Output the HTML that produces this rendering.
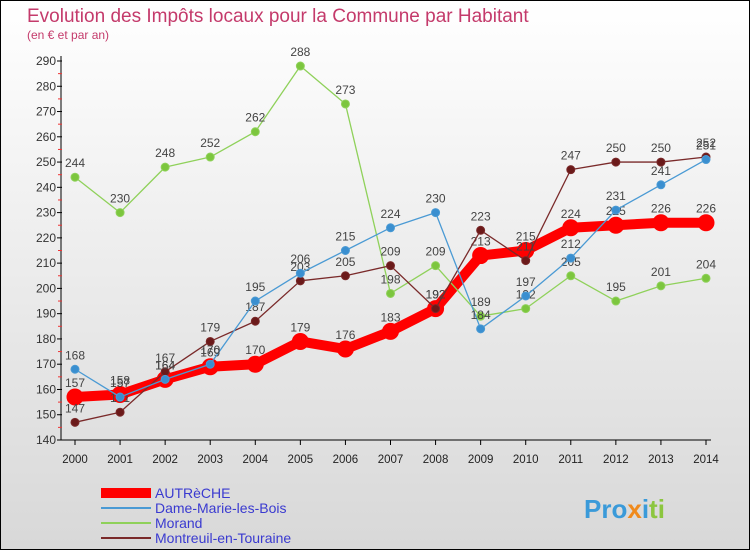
<!DOCTYPE html>
<html><head><meta charset="utf-8"><style>
body{margin:0;width:750px;height:550px;overflow:hidden;font-family:"Liberation Sans",sans-serif}
#wrap{position:relative;width:748px;height:548px;border:1px solid #000;background:linear-gradient(#fff,#d8d8d8)}
</style></head><body>
<div id="wrap">
<svg id="svg" width="748" height="548" style="position:absolute;left:0;top:0">
<text x="26" y="21" font-size="19" fill="#c43a6b">Evolution des Impôts locaux pour la Commune par Habitant</text>
<text x="26" y="38" font-size="12" fill="#c43a6b">(en € et par an)</text>
<g id="axes"></g><g id="series"></g><g id="legend"></g>
<text x="583" y="517" font-size="26" font-weight="bold" fill="#3a9ad9">Pro<tspan fill="#f08a1c">x</tspan><tspan fill="#3a9ad9">i</tspan><tspan fill="#8cc63f">ti</tspan></text>
</svg>
</div>
<script>
const years=[2000,2001,2002,2003,2004,2005,2006,2007,2008,2009,2010,2011,2012,2013,2014];
const autreche=[157,158,164,169,170,179,176,183,192,213,215,224,225,226,226];
const dameMarie=[168,157,164,170,195,206,215,224,230,184,197,212,231,241,251];
const morand=[244,230,248,252,262,288,273,198,209,189,192,205,195,201,204];
const montreuil=[147,151,167,179,187,203,205,209,192,223,211,247,250,250,252];
const yTicks=[140,150,160,170,180,190,200,210,220,230,240,250,260,270,280,290];
const NS="http://www.w3.org/2000/svg";
const x=i=>74+i*(705-74)/(years.length-1);
const y=v=>439-(v-140)*(439-60)/150;
function mk(t,a,p){const e=document.createElementNS(NS,t);for(const k in a)e.setAttribute(k,a[k]);p.appendChild(e);return e;}
const ax=document.getElementById('axes');
let l=mk('line',{x1:60,y1:55,x2:60,y2:439,stroke:'#000'},ax);


l=mk('line',{x1:60,y1:439,x2:710,y2:439,stroke:'#000'},ax);


yTicks.forEach(v=>{
 mk('line',{x1:56,y1:y(v),x2:61,y2:y(v),stroke:'#000'},ax);
 if(v<290)mk('line',{x1:57,y1:y(v+5),x2:61,y2:y(v+5),stroke:'#e33'},ax);
 const t=mk('text',{x:55,y:y(v)+4,'font-size':12,'text-anchor':'end',fill:'#333'},ax);t.textContent=v;
 
 
});
years.forEach((yr,i)=>{
 mk('line',{x1:x(i),y1:439,x2:x(i),y2:444,stroke:'#000'},ax);
 const t=mk('text',{x:x(i),y:462,'font-size':11.5,'text-anchor':'middle',fill:'#222'},ax);t.textContent=yr;
 
 
});
const sg=document.getElementById('series');
function draw(data,color,w,r,name,dot){
 const g=mk('g',{},sg);
 
 
 const p=mk('polyline',{points:data.map((v,i)=>x(i)+','+y(v)).join(' '),fill:'none',stroke:color,'stroke-width':w,'stroke-linejoin':'round'},g);
 
 
 data.forEach((v,i)=>{
  const c=mk('circle',{cx:x(i),cy:y(v),r:r,fill:dot,stroke:color,'stroke-width':1},g);
  
  
  const t=mk('text',{x:x(i),y:y(v)-10,'font-size':12,'text-anchor':'middle',fill:'#444'},g);t.textContent=v;
  
  
 });
}
draw(autreche,'#f00',10,8,'autreche','#f00');
draw(morand,'#8fd15a',1.3,4,'morand','#7cc63e');
draw(montreuil,'#7a2a2a',1.3,4,'montreuil','#6b1a1a');
draw(dameMarie,'#4a9ad4',1.3,4,'dame-marie','#3a8fd0');
const lg=document.getElementById('legend');
const items=[['AUTRèCHE','#f00',10],['Dame-Marie-les-Bois','#4a9ad4',2],['Morand','#8fd15a',2],['Montreuil-en-Touraine','#7a2a2a',2]];
items.forEach((it,i)=>{
 const yy=492+i*15;
 const g=mk('g',{},lg);
 
 
 mk('line',{x1:100,y1:yy,x2:150,y2:yy,stroke:it[1],'stroke-width':it[2]},g);
 const t=mk('text',{x:154,y:yy+5,'font-size':14,fill:'#3a3ad0'},g);t.textContent=it[0];
});
</script>
</body></html>
